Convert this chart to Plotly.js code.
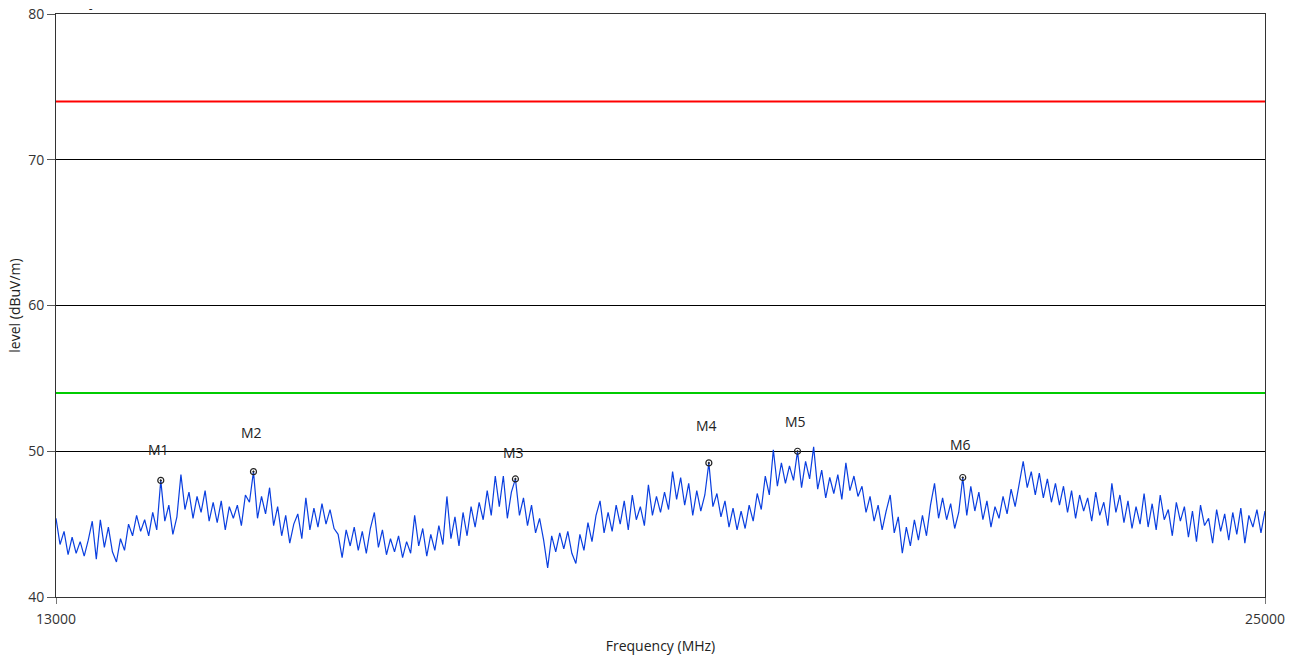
<!DOCTYPE html>
<html>
<head>
<meta charset="utf-8">
<script src="https://cdn.plot.ly/plotly-3.0.1.min.js"></script>
<style>html,body{margin:0;padding:0;background:#fff;}#chart{width:1296px;height:660px;}</style>
</head>
<body>
<div id="chart"></div>
<script>
// Frequency grid (MHz): 13000 .. 25000 step 40
const freqStart = 13000;
const freqStep = 40;
const levels = [
  45.4, 43.6, 44.5, 42.9, 44.1, 43.0, 43.8, 42.8, 43.9, 45.2,
  42.6, 45.3, 43.4, 44.8, 43.1, 42.4, 44.0, 43.2, 45.0, 44.2,
  45.6, 44.5, 45.3, 44.2, 45.8, 44.6, 48.0, 45.2, 46.3, 44.3,
  45.5, 48.4, 46.0, 47.2, 45.4, 46.9, 45.8, 47.3, 45.2, 46.5,
  45.1, 46.6, 44.6, 46.2, 45.4, 46.3, 44.9, 47.0, 46.5, 48.6,
  45.4, 46.9, 45.7, 47.5, 44.9, 46.2, 44.2, 45.6, 43.7, 45.0,
  45.7, 44.0, 46.8, 44.6, 46.1, 44.8, 46.4, 45.0, 46.0, 44.7,
  44.3, 42.7, 44.6, 43.5, 44.8, 43.2, 44.5, 43.0, 44.7, 45.8,
  43.4, 44.6, 42.9, 44.0, 43.1, 44.2, 42.7, 43.8, 43.0, 45.6,
  43.5, 44.7, 42.8, 44.3, 43.2, 44.9, 43.6, 46.9, 44.0, 45.5,
  43.5, 45.8, 44.2, 46.2, 44.8, 46.5, 45.3, 47.3, 45.6, 48.3,
  46.2, 48.3, 45.4, 47.2, 48.1, 45.6, 46.8, 44.9, 46.3, 44.4,
  45.4, 43.9, 42.0, 44.2, 43.1, 44.4, 43.3, 44.5, 43.0, 42.3,
  44.3, 43.2, 45.1, 43.8, 45.6, 46.6, 44.4, 45.8, 44.5, 46.3,
  45.0, 46.6, 44.6, 47.0, 45.3, 46.2, 44.9, 47.7, 45.6, 46.9,
  45.8, 47.2, 46.0, 48.6, 46.7, 48.2, 46.3, 47.8, 45.6, 47.3,
  45.9, 47.0, 49.2, 46.2, 47.1, 45.5, 46.6, 44.8, 46.1, 44.6,
  45.9, 44.7, 46.3, 45.2, 47.1, 46.0, 48.3, 47.0, 50.1, 47.6,
  49.2, 47.8, 49.0, 48.0, 50.0, 47.5, 49.3, 48.1, 50.3, 47.4,
  48.7, 46.8, 48.2, 47.1, 48.4, 46.7, 49.2, 47.3, 48.3, 46.9,
  47.6, 45.8, 46.9, 45.2, 46.3, 44.6, 45.9, 47.0, 44.4, 45.5,
  43.0, 44.8, 43.5, 45.3, 43.9, 45.6, 44.2, 46.3, 47.8, 45.4,
  46.8, 45.3, 46.4, 44.7, 45.8, 48.2, 45.6, 47.6, 45.9, 47.2,
  45.3, 46.6, 44.8, 46.2, 45.4, 46.9, 45.7, 47.4, 46.2, 47.8,
  49.3, 47.5, 48.6, 47.0, 48.5, 46.8, 48.1, 46.5, 47.8, 46.3,
  47.6, 45.8, 47.3, 45.4, 47.0, 45.9, 46.8, 45.2, 47.2, 45.6,
  46.5, 44.9, 47.8, 45.8, 47.0, 45.1, 46.6, 44.7, 46.2, 45.0,
  47.1, 44.8, 46.4, 44.6, 47.0, 45.3, 46.0, 44.2, 46.5, 45.2,
  46.2, 44.1, 45.9, 43.8, 46.3, 44.9, 45.4, 43.7, 46.0, 44.5,
  45.7, 43.9, 45.8, 44.3, 46.1, 43.7, 45.6, 44.8, 46.0, 44.4, 45.9
];
const freqs = levels.map((_, i) => freqStart + i * freqStep);

// Markers
const markerNames = ["M1", "M2", "M3", "M4", "M5", "M6"];
const markerFreqs = [14040, 14960, 17560, 19480, 20360, 22000];
const markerLevels = [48.0, 48.6, 48.1, 49.2, 50.0, 48.2];

// Limit lines
const limitRed = 74;
const limitGreen = 54;

// Axis
const xRange = [13000, 25000];
const xTicks = [13000, 25000];
const yRange = [40, 80];
const yTicks = [40, 50, 60, 70, 80];

const labelShift = [31, 39, 26, 37, 30, 33];

const font = "Open Sans, DejaVu Sans, sans-serif";

const traces = [
  {x: xRange, y: [limitRed, limitRed], mode: "lines", line: {color: "#ff0000", width: 2}, hoverinfo: "skip"},
  {x: xRange, y: [limitGreen, limitGreen], mode: "lines", line: {color: "#00cc00", width: 2}, hoverinfo: "skip"},
  {x: freqs, y: levels, mode: "lines", line: {color: "#0a3fe0", width: 1.2}},
  {x: markerFreqs, y: markerLevels, mode: "markers",
   marker: {symbol: "circle-open-dot", size: 6, color: "#222", line: {width: 1.2, color: "#222"}}}
];

const annotations = markerNames.map((n, i) => ({
  x: markerFreqs[i], y: markerLevels[i], xref: "x", yref: "y",
  text: n, showarrow: false, yshift: labelShift[i], xshift: -2,
  font: {family: font, size: 14, color: "#222"}
}));

const layout = {
  width: 1296, height: 660,
  margin: {l: 56, r: 31, t: 14, b: 63},
  paper_bgcolor: "#fff", plot_bgcolor: "#fff",
  showlegend: false,
  title: {text: "-", x: 0.070, xanchor: "center", y: 0.986, yanchor: "middle",
          font: {family: font, size: 12, color: "#222"}},
  xaxis: {
    range: xRange, tickvals: xTicks, ticktext: xTicks.map(String),
    showgrid: false, zeroline: false,
    showline: true, mirror: true, linecolor: "#333", linewidth: 1,
    ticks: "outside", ticklen: 6, tickcolor: "#777", ticklabelstandoff: 3,
    tickfont: {family: font, size: 14, color: "#333"},
    title: {text: "Frequency (MHz)", font: {family: font, size: 14, color: "#222"}, standoff: 14}
  },
  yaxis: {
    range: yRange, tickvals: yTicks, ticktext: yTicks.map(String),
    showgrid: true, gridcolor: "#000", gridwidth: 1, zeroline: false,
    showline: true, mirror: true, linecolor: "#333", linewidth: 1,
    ticks: "outside", ticklen: 8, tickcolor: "#555",
    tickfont: {family: font, size: 14, color: "#333"},
    title: {text: "level (dBuV/m)", font: {family: font, size: 14, color: "#222"}, standoff: 4}
  },
  annotations: annotations
};

Plotly.newPlot("chart", traces, layout, {displayModeBar: false, staticPlot: true});
</script>
</body>
</html>
